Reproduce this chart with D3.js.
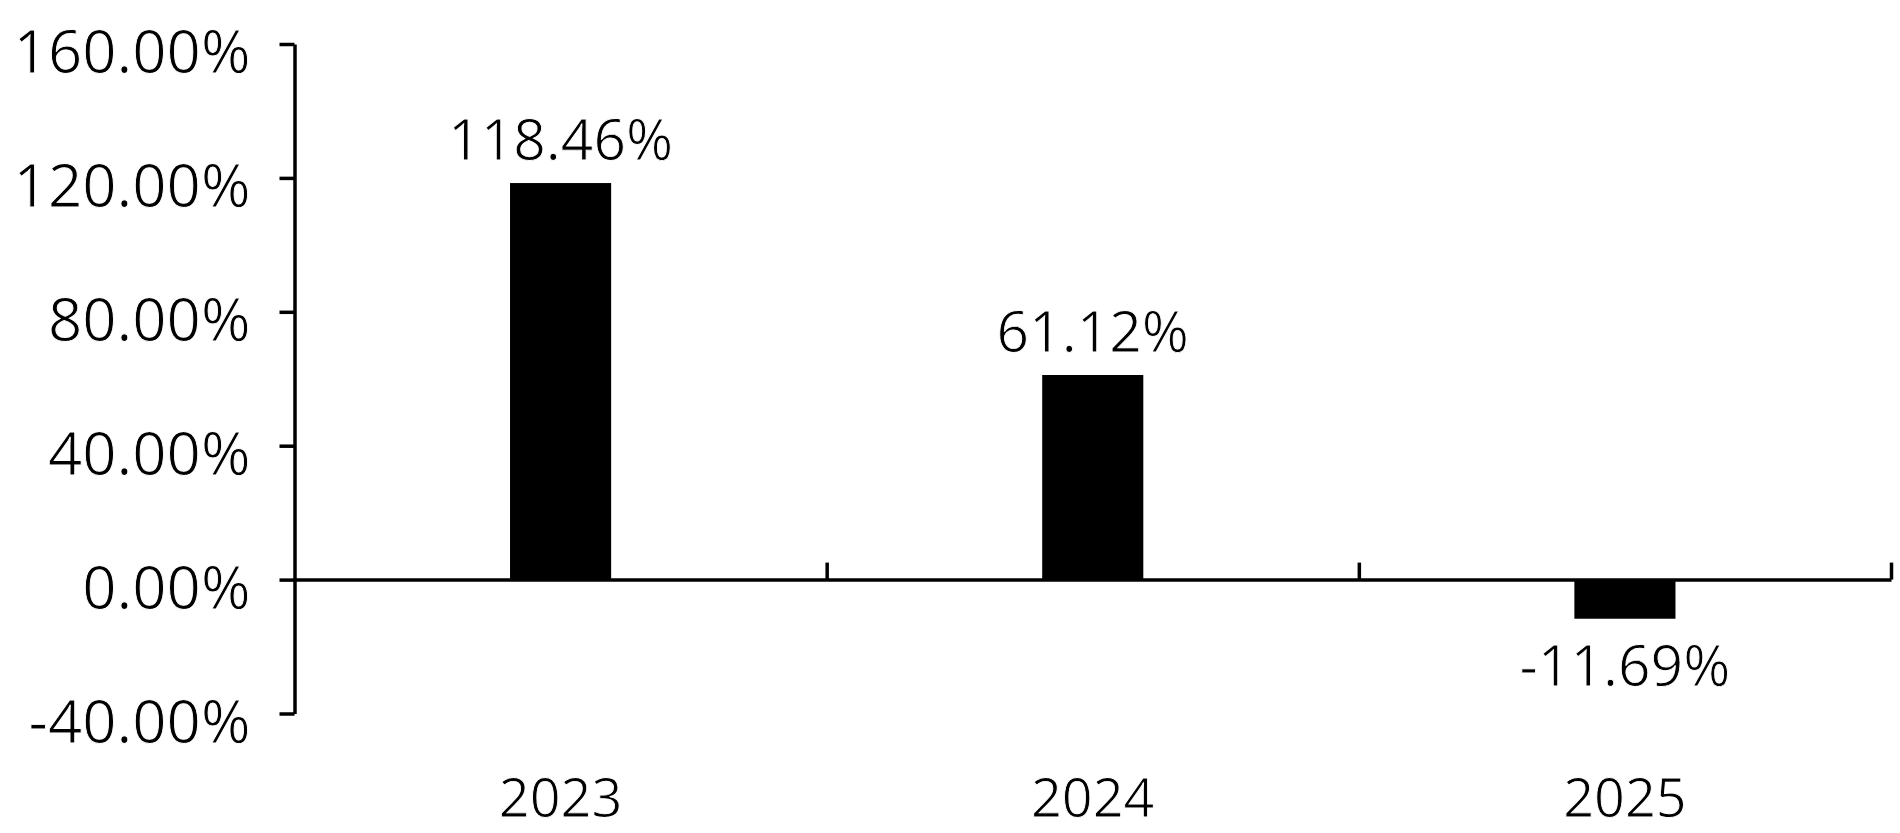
<!DOCTYPE html>
<html>
<head>
<meta charset="utf-8">
<script src="https://cdn.jsdelivr.net/npm/d3@7"></script>
<style>
  html, body { margin: 0; padding: 0; background: #fff; }
  svg { display: block; }
  text { font-family: "Open Sans", "Noto Sans", sans-serif; font-weight: 400; fill: #000; stroke: #fff; stroke-width: 0.9px; }
</style>
</head>
<body>
<svg id="chart" width="1900" height="833"></svg>
<script>
const categories = ["2023", "2024", "2025"];
const values = [118.46, 61.12, -11.69];
const valueLabels = ["118.46%", "61.12%", "-11.69%"];
const yTicks = [-40, 0, 40, 80, 120, 160];
const yTickLabels = ["-40.00%", "0.00%", "40.00%", "80.00%", "120.00%", "160.00%"];

(function () {
const svg = d3.select("#chart");
const plotLeft = 294.5, plotRight = 1891, plotTop = 44, plotBottom = 713.5;

const y = d3.scaleLinear().domain([-40, 160]).range([plotBottom, plotTop]);
const x = d3.scaleBand().domain(categories).range([plotLeft, plotRight]).padding(0);
const bw = x.bandwidth();
const barFrac = 0.19;

// bars
svg.append("g").selectAll("rect").data(values).join("rect")
  .attr("x", (d, i) => x(categories[i]) + bw * (1 - barFrac) / 2)
  .attr("width", bw * barFrac)
  .attr("y", d => Math.min(y(d), y(0)))
  .attr("height", d => Math.abs(y(d) - y(0)))
  .attr("fill", "#000");

// y axis
const yAxis = d3.axisLeft(y).tickValues(yTicks)
  .tickFormat(d => yTickLabels[yTicks.indexOf(d)])
  .tickSizeInner(15).tickSizeOuter(0);
const gy = svg.append("g").attr("transform", `translate(${plotLeft},0)`).call(yAxis);
gy.select(".domain").attr("stroke", "#000").attr("stroke-width", 3.5);
gy.selectAll(".tick line").attr("stroke", "#000").attr("stroke-width", 3.5);
gy.selectAll(".tick text")
  .attr("x", -44).attr("dy", null).attr("y", 28.5)
  .attr("font-size", 60).attr("font-family", "Open Sans").attr("fill", "#000")
  .attr("stroke", "#fff").attr("stroke-width", 0.9);

// zero line with category separators
const boundaries = categories.map(c => x(c) + bw);
const xb = d3.scaleLinear().domain([plotLeft, plotRight]).range([plotLeft, plotRight]);
const xAxis = d3.axisTop(xb).tickValues(boundaries).tickFormat("")
  .tickSizeInner(17).tickSizeOuter(0);
const gx = svg.append("g").attr("transform", `translate(0,${y(0)})`).call(xAxis);
gx.select(".domain").attr("stroke", "#000").attr("stroke-width", 3.5);
gx.selectAll(".tick line").attr("stroke", "#000").attr("stroke-width", 3.5);

// category labels
svg.append("g").selectAll("text").data(categories).join("text")
  .attr("x", d => x(d) + bw / 2)
  .attr("y", 817)
  .attr("text-anchor", "middle")
  .attr("font-size", 54)
  .text(d => d);

// value labels
svg.append("g").selectAll("text").data(values).join("text")
  .attr("x", (d, i) => x(categories[i]) + bw / 2)
  .attr("y", d => d >= 0 ? y(d) - 23 : y(d) + 67)
  .attr("text-anchor", "middle")
  .attr("font-size", 57)
  .text((d, i) => valueLabels[i]);
})();
</script>
</body>
</html>
